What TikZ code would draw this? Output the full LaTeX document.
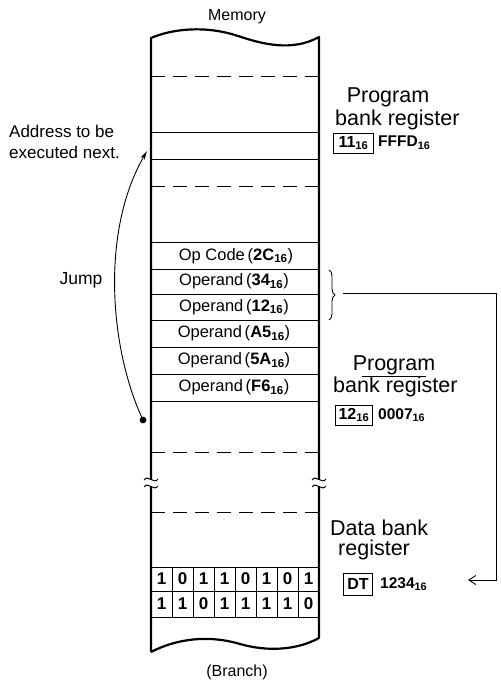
\documentclass[tikz,border=0pt]{standalone}
\usepackage{fontspec}
\setmainfont{Liberation Sans}
\usetikzlibrary{arrows.meta,decorations.pathreplacing}
\newcommand{\hx}[1]{\textbf{#1\textsubscript{16}}}
\tikzset{
  frame/.style={line width=2.2pt, line join=round},
  rowline/.style={line width=1pt},
  dashrow/.style={line width=1pt, dash pattern=on 14pt off 8pt},
  rowtext/.style={font=\fontsize{16.5}{19}\selectfont, inner sep=0pt},
  bigtext/.style={font=\fontsize{21.5}{25}\selectfont, inner sep=0pt},
  smalltext/.style={font=\fontsize{16.5}{19}\selectfont, inner sep=0pt},
  regbox/.style={draw, line width=0.9pt, font=\fontsize{16}{18}\selectfont\bfseries, inner sep=2pt, minimum height=20pt},
  regval/.style={font=\fontsize{15.5}{18}\selectfont\bfseries, inner sep=0pt, anchor=west},
  bit/.style={font=\fontsize{17}{19}\selectfont\bfseries, inner sep=0pt},
  wire/.style={line width=0.9pt},
}
\begin{document}
\begin{tikzpicture}[x=1pt,y=-1pt]
\useasboundingbox (0,0) rectangle (500,684);
% memory frame
\draw[frame] (151,652) -- (151,38) .. controls (172,29) and (205,25) .. (238,36)
  .. controls (262,44) and (292,52) .. (319,37) -- (319,638)
  .. controls (297,650) and (268,652) .. (240,644)
  .. controls (210,635) and (178,638) .. (151,652);
% rows
\foreach \y in {133,160,243,269,294,320,347,374,401,567,591,617}
  \draw[rowline] (151,\y) -- (319,\y);
\foreach \y in {77,187,452,512}
  \draw[dashrow] (151,\y) -- (319,\y);
% break marks
\foreach \x in {151,319}{
  \fill[white] (\x-2,479.5) rectangle (\x+2,486.5);
  \draw[line width=1pt] (\x-7,480) .. controls (\x-3,474) and (\x+3,485) .. (\x+7,479);
  \draw[line width=1pt] (\x-7,487) .. controls (\x-3,481) and (\x+3,492) .. (\x+7,486);
}
% bit cells
\foreach \i in {1,...,7}
  \draw[rowline] (151+21*\i,567) -- (151+21*\i,617);
\foreach \b [count=\i from 0] in {1,0,1,1,0,1,0,1}
  \node[bit] (ba\i) at (161.5+21*\i,579) {\b};
\foreach \b [count=\i from 0] in {1,1,0,1,1,1,1,0}
  \node[bit] (bb\i) at (161.5+21*\i,604) {\b};
% row texts
\node[rowtext] (op)  at (236,256)   {Op Code\,(\hx{2C})};
\node[rowtext] (o1)  at (234,281.5) {Operand\,(\hx{34})};
\node[rowtext] (o2)  at (234,307)   {Operand\,(\hx{12})};
\node[rowtext] (o3)  at (234,333.5) {Operand\,(\hx{A5})};
\node[rowtext] (o4)  at (234,360.5) {Operand\,(\hx{5A})};
\node[rowtext] (o5)  at (234,387.5) {Operand\,(\hx{F6})};
% titles
\node[smalltext, font=\fontsize{16}{19}\selectfont] (mem) at (237,17) {Memory};
\node[smalltext, font=\fontsize{16}{19}\selectfont] (br)  at (237,672) {(Branch)};
\node[smalltext, anchor=west, align=left, font=\fontsize{17}{21}\selectfont] (addr) at (9,142) {Address to be\\executed next.};
\node[smalltext, font=\fontsize{17.5}{21}\selectfont] (jump) at (81,280) {Jump};
% jump arrow
\fill (143,420) circle (3.4pt);
\coordinate (jsrc) at (143,420);
\coordinate (jdst) at (147,151);
\draw[wire, -{Stealth[length=9pt,width=4.5pt]}] (jsrc) .. controls (110,350) and (100,232) .. (jdst);
% right labels: first program bank register
\node[bigtext] (pg1) at (388,97) {Program};
\node[bigtext, anchor=west] (bk1) at (335,120) {bank register};
\node[regbox, anchor=west, minimum width=40pt] (r1) at (333,143) {11\textsubscript{16}};
\node[regval] (v1) at (378,143) {FFFD\textsubscript{16}};
% second program bank register
\node[bigtext] (pg2) at (394,365) {Program};
\draw[line width=0.7pt] (362,376) -- (426,376);
\node[bigtext, anchor=west] (bk2) at (333,387) {bank register};
\node[regbox, anchor=west, minimum width=37pt] (r2) at (335,415) {12\textsubscript{16}};
\node[regval] (v2) at (378,415) {0007\textsubscript{16}};
% data bank register
\node[bigtext, anchor=west] (db) at (330,528) {Data bank};
\node[bigtext, anchor=west] (dr) at (338,550) {register};
\node[regbox, anchor=west, minimum width=29pt, minimum height=22pt] (dt) at (343,584) {DT};
\node[regval] (v3) at (380,584) {1234\textsubscript{16}};
% brace and route
\draw[wire, decorate, decoration={brace, amplitude=6pt}] (329,270) -- (329,320);
\coordinate (bt) at (343,293);
\coordinate (c1) at (496,293);
\coordinate (c2) at (496,580);
\coordinate (tip) at (468,580);
\draw[wire, -{Straight Barb[length=7pt,width=9pt]}] (bt) -- (c1) -- (c2) -- (tip);
\end{tikzpicture}
\end{document}
